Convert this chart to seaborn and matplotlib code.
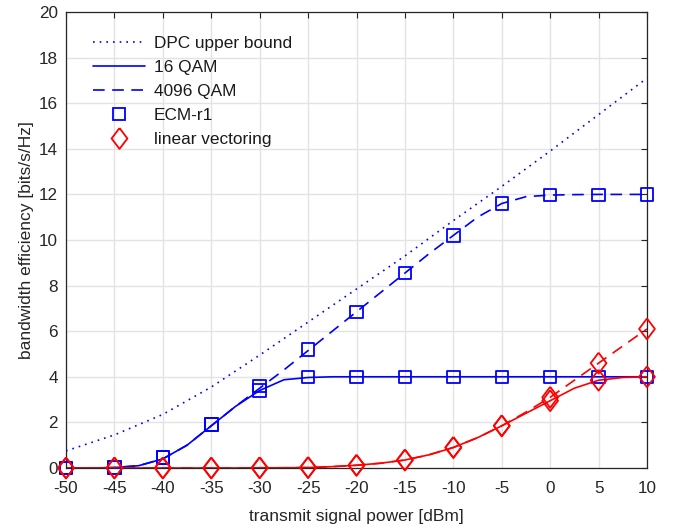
import numpy as np
import pandas as pd
import matplotlib
matplotlib.use("Agg")
import matplotlib.pyplot as plt
from matplotlib.lines import Line2D
import seaborn as sns

# ---- data ----
x_marker = [-50, -45, -40, -35, -30, -25, -20, -15, -10, -5, 0, 5, 10]
dpc_bound = [0.75, 1.45, 2.35, 3.55, 4.95, 6.4, 7.85, 9.3, 10.85, 12.35, 13.9, 15.5, 17.1]

x_line = [-50, -47.5, -45, -42.5, -40, -37.5, -35, -32.5, -30, -27.5, -25, -22.5, -20,
          -17.5, -15, -12.5, -10, -7.5, -5, -2.5, 0, 2.5, 5, 7.5, 10]
ecm_16qam_line = [0.0, 0.0, 0.02, 0.1, 0.4, 1.0, 1.85, 2.7, 3.4, 3.87, 3.97, 4.0, 4.0,
                  4.0, 4.0, 4.0, 4.0, 4.0, 4.0, 4.0, 4.0, 4.0, 4.0, 4.0, 4.0]
ecm_4096qam_line = [0.0, 0.0, 0.02, 0.1, 0.4, 1.0, 1.85, 2.7, 3.5, 4.3, 5.15, 6.0, 6.85,
                    7.7, 8.55, 9.4, 10.2, 11.0, 11.6, 11.9, 11.97, 11.99, 12.0, 12.0, 12.0]
lin_16qam_line = [0.0, 0.0, 0.0, 0.0, 0.0, 0.0, 0.0, 0.0, 0.01, 0.01, 0.02, 0.06, 0.12,
                  0.21, 0.35, 0.58, 0.9, 1.33, 1.85, 2.4, 2.95, 3.5, 3.85, 3.97, 4.0]
lin_4096qam_line = [0.0, 0.0, 0.0, 0.0, 0.0, 0.0, 0.0, 0.0, 0.01, 0.01, 0.02, 0.06, 0.12,
                    0.21, 0.35, 0.58, 0.9, 1.33, 1.85, 2.45, 3.1, 3.85, 4.6, 5.35, 6.1]

ecm_16qam_pts = [0.0, 0.02, 0.45, 1.9, 3.4, 4.0, 4.0, 4.0, 4.0, 4.0, 4.0, 4.0, 4.0]
ecm_4096qam_pts = [0.0, 0.02, 0.45, 1.9, 3.6, 5.2, 6.85, 8.55, 10.2, 11.6, 11.97, 11.98, 12.0]
lin_16qam_pts = [0.0, 0.0, 0.0, 0.0, 0.01, 0.02, 0.12, 0.35, 0.9, 1.85, 2.95, 3.85, 4.0]
lin_4096qam_pts = [0.0, 0.0, 0.0, 0.0, 0.01, 0.02, 0.12, 0.35, 0.9, 1.85, 3.1, 4.6, 6.1]

x_ticks = [-50, -45, -40, -35, -30, -25, -20, -15, -10, -5, 0, 5, 10]
y_ticks = [0, 2, 4, 6, 8, 10, 12, 14, 16, 18, 20]

# ---- style ----
sns.set_theme(style="white")
plt.rcParams['font.family'] = ['Liberation Sans', 'DejaVu Sans']

fig = plt.figure(figsize=(6.78, 5.29), dpi=100)
ax = fig.add_axes([66 / 678, 1 - 468 / 529, (647 - 66) / 678, (468 - 12) / 529])

BLUE = (0, 0, 1)
RED = (1, 0, 0)
LW = 1.2
SQ = 9.0
DM = 15.0
DIAMOND = [(0, 1), (0.76, 0), (0, -1), (-0.76, 0), (0, 1)]

def draw_line(x, y, color, dashes):
    df = pd.DataFrame({"x": x, "y": y})
    sns.lineplot(data=df, x="x", y="y", ax=ax, color=color, linewidth=LW,
                 estimator=None, sort=False, legend=False)
    ln = ax.lines[-1]
    if dashes is not None:
        ln.set_dashes(dashes)
    return ln

def draw_pts(x, y, color, marker, size, lw=1.3):
    df = pd.DataFrame({"x": x, "y": y})
    sns.scatterplot(data=df, x="x", y="y", ax=ax, marker=marker, s=size ** 2,
                    facecolors='none', edgecolor=color, linewidth=lw, legend=False,
                    zorder=3)
    ax.collections[-1].set_clip_on(False)

draw_line(x_marker, dpc_bound, BLUE, (1, 3))
draw_line(x_line, ecm_16qam_line, BLUE, None)
draw_line(x_line, ecm_4096qam_line, BLUE, (7, 4.5))
draw_pts(x_marker, ecm_16qam_pts, BLUE, 's', SQ)
draw_pts(x_marker, ecm_4096qam_pts, BLUE, 's', SQ)
draw_line(x_line, lin_16qam_line, RED, None)
draw_line(x_line, lin_4096qam_line, RED, (7, 4.5))
draw_pts(x_marker, lin_16qam_pts, RED, DIAMOND, DM)
draw_pts(x_marker, lin_4096qam_pts, RED, DIAMOND, DM)

ax.set_xlim(-50, 10)
ax.set_ylim(0, 20)
ax.set_xticks(x_ticks)
ax.set_xticklabels([str(v) for v in x_ticks])
ax.set_yticks(y_ticks)
ax.set_yticklabels([str(v) for v in y_ticks])
ax.grid(True, color='#e3e3e3', linewidth=1.0)
ax.set_axisbelow(True)
ax.tick_params(direction='in', length=4, width=0.8, top=True, right=True,
               labelsize=12.3, colors='#262626')
ax.tick_params(axis='x', pad=9.5)
ax.tick_params(axis='y', pad=6)
for sp in ax.spines.values():
    sp.set_visible(True)
    sp.set_linewidth(0.9)
    sp.set_color('#262626')

ax.set_xlabel("transmit signal power [dBm]", fontsize=12.5, color='#262626', labelpad=9)
ax.set_ylabel("bandwidth efficiency [bits/s/Hz]", fontsize=12.5, color='#262626', labelpad=3)

handles = [
    Line2D([], [], color=BLUE, linewidth=LW, dashes=(1, 3)),
    Line2D([], [], color=BLUE, linewidth=LW),
    Line2D([], [], color=BLUE, linewidth=LW, dashes=(7, 4.5)),
    Line2D([], [], color=BLUE, linestyle='none', marker='s', markersize=SQ,
           markerfacecolor='none', markeredgewidth=1.3),
    Line2D([], [], color=RED, linestyle='none', marker=DIAMOND, markersize=DM,
           markerfacecolor='none', markeredgewidth=1.3),
]
labels = ["DPC upper bound", "16 QAM", "4096 QAM", "ECM-r1", "linear vectoring"]
leg = ax.legend(handles, labels, loc='upper left', bbox_to_anchor=(0.035, 0.962),
                frameon=False, fontsize=12.4, handlelength=3.0, handletextpad=0.5,
                labelspacing=0.52, borderaxespad=0.2, borderpad=0.2)
for t in leg.get_texts():
    t.set_color('#1a1a1a')

fig.savefig("out.png", dpi=100)
